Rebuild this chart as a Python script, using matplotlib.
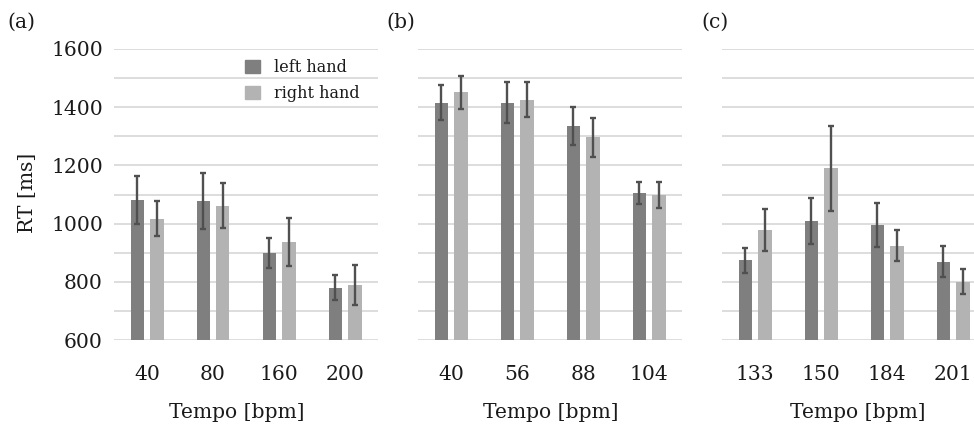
import numpy as np
import matplotlib.pyplot as plt
from matplotlib.patches import Patch

plt.rcParams['font.family'] = 'DejaVu Serif'

# tempo conditions per panel
tempos_a = ['40', '80', '160', '200']
tempos_b = ['40', '56', '88', '104']
tempos_c = ['133', '150', '184', '201']

# mean RT and error bar half-widths [ms]
left_a = [1081, 1077, 900, 780]
left_a_err = [81, 97, 52, 42]
right_a = [1017, 1062, 937, 789]
right_a_err = [60, 78, 81, 70]

left_b = [1415, 1415, 1336, 1105]
left_b_err = [60, 71, 66, 39]
right_b = [1451, 1426, 1297, 1098]
right_b_err = [57, 60, 67, 45]

left_c = [874, 1009, 995, 869]
left_c_err = [43, 78, 77, 54]
right_c = [978, 1191, 924, 800]
right_c_err = [73, 146, 54, 43]

dark = '#7f7f7f'
light = '#b3b3b3'
errc = '#505050'
gridc = '#dddddd'
txt = '#1a1a1a'
fs = 14.6

W, H = 974, 428
fig = plt.figure(figsize=(W / 100, H / 100), dpi=100)

bottom = 1 - 340 / H
height = (340 - 49) / H
width = 264 / W
lefts = [114, 418, 722]

panels = [
    (tempos_a, left_a, left_a_err, right_a, right_a_err),
    (tempos_b, left_b, left_b_err, right_b, right_b_err),
    (tempos_c, left_c, left_c_err, right_c, right_c_err),
]

axes = []
for i, (cats, lv, le, rv, re) in enumerate(panels):
    ax = fig.add_axes([lefts[i] / W, bottom, width, height])
    x = np.arange(len(cats))
    off = 0.144
    bw = 0.212
    ekw = dict(ecolor=errc, elinewidth=1.7, capsize=2.5, capthick=1.7)
    ax.bar(x - off, lv, bw, color=dark, zorder=2,
           yerr=le, error_kw=ekw, label='left hand')
    ax.bar(x + off, rv, bw, color=light, zorder=2,
           yerr=re, error_kw=ekw, label='right hand')
    ax.set_ylim(600, 1600)
    ax.set_xlim(-0.5, 3.5)
    for s in ax.spines.values():
        s.set_visible(False)
    # light horizontal grid every 100 ms
    for g in np.arange(600, 1601, 100):
        ax.axhline(g, color=gridc, linewidth=1.4, zorder=0)
    ax.set_xticks(x)
    ax.set_xticklabels(cats, fontsize=fs)
    ax.tick_params(axis='x', length=0, pad=18, colors=txt)
    if i == 0:
        ax.set_yticks(np.arange(600, 1601, 200))
        ax.tick_params(axis='y', length=0, pad=8, labelsize=fs, colors=txt)
    else:
        ax.set_yticks([])
    axes.append(ax)

# x-axis titles
fig.text(237 / W, 1 - 413 / H, 'Tempo [bpm]', ha='center', va='center', fontsize=fs, color=txt)
fig.text(551 / W, 1 - 413 / H, 'Tempo [bpm]', ha='center', va='center', fontsize=fs, color=txt)
fig.text(858 / W, 1 - 413 / H, 'Tempo [bpm]', ha='center', va='center', fontsize=fs, color=txt)

fig.text(28 / W, 1 - 193 / H, 'RT [ms]', rotation=90, ha='center', va='center', fontsize=fs, color=txt)

# panel letters
fig.text(7 / W, 1 - 22 / H, '(a)', ha='left', va='center', fontsize=fs, color=txt)
fig.text(386 / W, 1 - 22 / H, '(b)', ha='left', va='center', fontsize=fs, color=txt)
fig.text(701 / W, 1 - 22 / H, '(c)', ha='left', va='center', fontsize=fs, color=txt)

handles = [Patch(color=dark, label='left hand'), Patch(color=light, label='right hand')]
leg = axes[0].legend(handles=handles, loc='upper left', bbox_to_anchor=(231 / W, 1 - 45 / H),
                     bbox_transform=fig.transFigure, frameon=False, fontsize=11.5,
                     handlelength=0.9, handleheight=0.9, handletextpad=0.9, labelspacing=0.55)
for t in leg.get_texts():
    t.set_color(txt)

fig.savefig('out.png', dpi=100, facecolor='white')
